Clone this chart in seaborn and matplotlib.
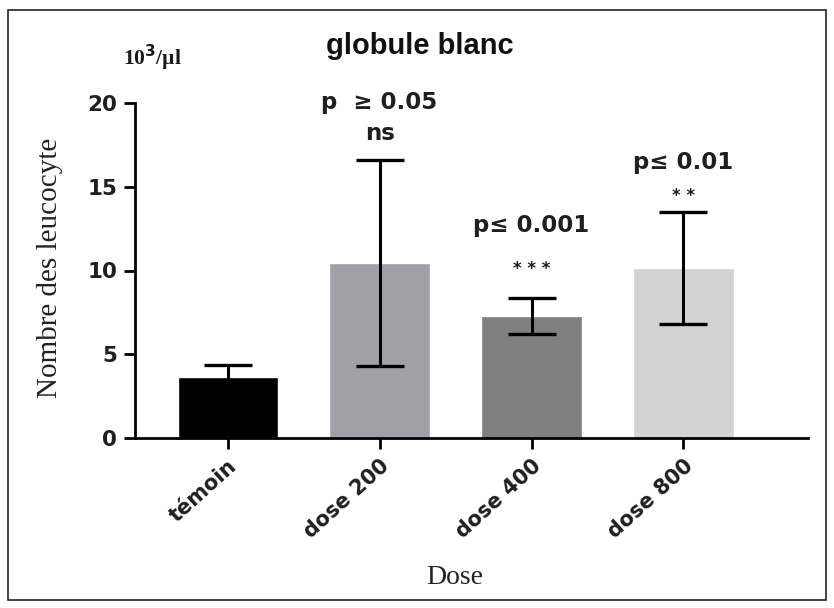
import numpy as np
import pandas as pd
import seaborn as sns
import matplotlib.pyplot as plt
from matplotlib.patches import Rectangle

groups = ['témoin', 'dose 200', 'dose 400', 'dose 800']
means = [3.62, 10.45, 7.27, 10.15]
errs = [0.75, 6.15, 1.08, 3.32]
colors = ['#000000', '#a1a0a6', '#808080', '#d3d3d3']
p_labels = ['', 'p  \u2265 0.05', 'p\u2264 0.001', 'p\u2264 0.01']
stars = ['', 'ns', '* * *', '* *']

sns.set_style('white')
df = pd.DataFrame({'group': groups, 'value': means})

fig = plt.figure(figsize=(8.34, 6.08), dpi=100)
ax = fig.add_axes([135 / 834, 1 - 438 / 608, (808 - 135) / 834, (438 - 103) / 608])

sns.barplot(data=df, x='group', y='value', hue='group', palette=colors,
            width=0.66, saturation=1, legend=False, errorbar=None, ax=ax)
ax.errorbar(range(len(groups)), means, yerr=errs, fmt='none', ecolor='black',
            elinewidth=2.2, capsize=17, capthick=2.4, zorder=5)

ax.set_xlim(-0.61, 3.82)
ax.set_ylim(0, 20)
ax.set_yticks([0, 5, 10, 15, 20])
sns.despine(ax=ax)
for s in ['left', 'bottom']:
    ax.spines[s].set_linewidth(2)
    ax.spines[s].set_color('black')
ax.tick_params(axis='both', direction='out', length=8, width=2, color='black',
               bottom=True, left=True, pad=5)
ax.tick_params(axis='y', labelsize=15.5)
ax.set_xticks(range(len(groups)))
ax.set_xticklabels(groups, rotation=42, ha='right', rotation_mode='anchor', fontsize=15)
for lab in ax.get_yticklabels() + ax.get_xticklabels():
    lab.set_fontfamily('DejaVu Sans')
    lab.set_fontweight('bold')
    lab.set_color('#1f1f1f')

ax.set_xlabel('Dose', fontfamily='Liberation Serif', fontsize=20, color='#222222')
ax.set_ylabel('Nombre des leucocyte', fontfamily='Liberation Serif', fontsize=21,
              color='#222222')
ax.xaxis.set_label_coords((455 - 135) / (808 - 135), -(578 - 438) / (438 - 103))
ax.yaxis.set_label_coords(-(135 - 50) / (808 - 135), (438 - 268) / (438 - 103))
ax.xaxis.label.set_va('center')
ax.yaxis.label.set_va('center')

# p-value annotations
p_y = [0, 20.05, 12.7, 16.45]
s_y = [0, 18.2, 10.1, 14.45]
for i in range(1, 4):
    ax.text(i, p_y[i], p_labels[i], ha='center', va='center', fontsize=16.5,
            fontweight='bold', color='#1f1f1f', fontfamily='DejaVu Sans', clip_on=False)
    ax.text(i, s_y[i], stars[i], ha='center', va='center',
            fontsize=16.5 if i == 1 else 12, fontweight='bold', color='#1f1f1f',
            fontfamily='DejaVu Sans', clip_on=False)

fig.text(420 / 834, 1 - 46 / 608, 'globule blanc', ha='center', va='center',
         fontsize=21, fontweight='bold', fontfamily='Liberation Sans', color='#111111')
fig.text(152 / 834, 1 - 58 / 608, '10$^{\\mathbf{3}}$/\u00b5l', ha='center', va='center',
         fontsize=15.5, fontweight='bold', fontfamily='Liberation Serif', color='#1a1a1a')

fig.patches.append(Rectangle((8 / 834, 1 - 600 / 608), 818 / 834, 590 / 608,
                             transform=fig.transFigure, fill=False, edgecolor='#222222',
                             linewidth=1.2))

fig.savefig('out.png', dpi=100)
